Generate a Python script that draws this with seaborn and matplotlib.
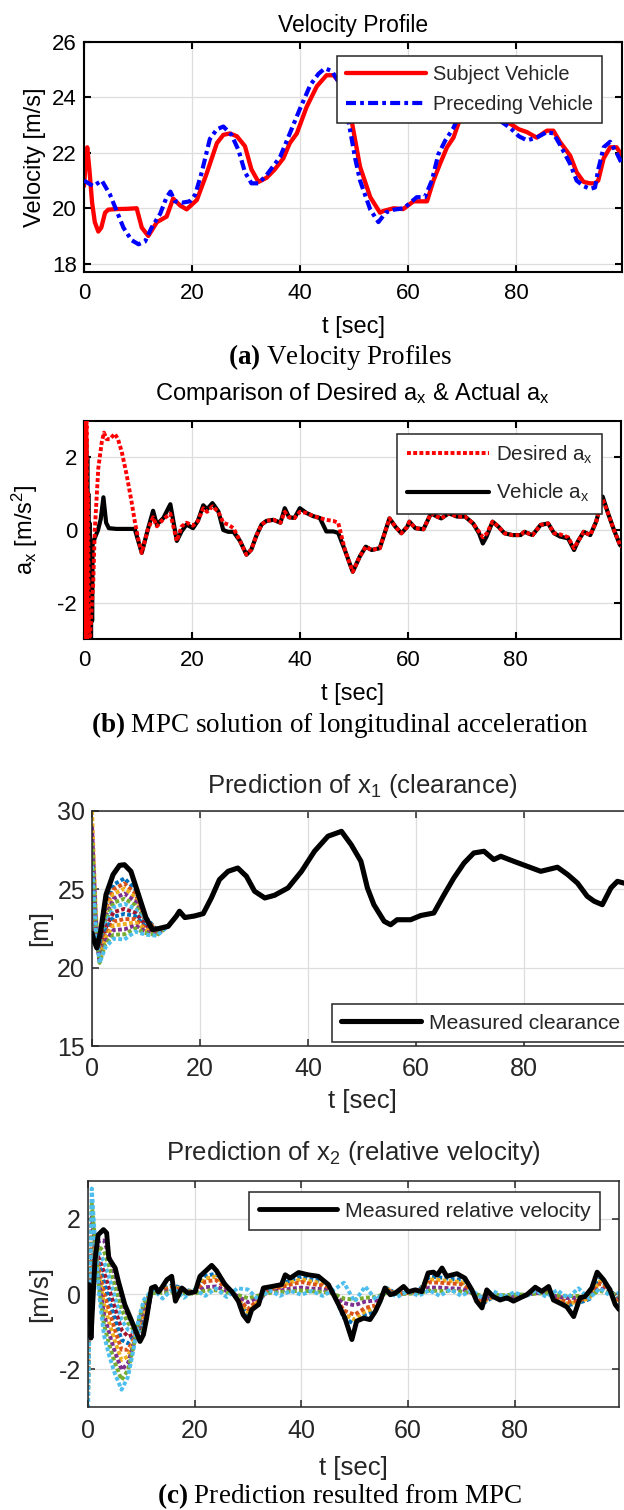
import matplotlib
matplotlib.use("Agg")
import matplotlib.pyplot as plt
import seaborn as sns

# ---------------- (a) velocity profiles ----------------
subj_t = [0, 0.3, 0.6, 1.0, 1.5, 2.0, 2.65, 3.2, 3.9, 4.5, 6, 8, 9.75, 10.7, 11.9,
          13.5, 15.3, 16.5, 17.8, 19.0, 20.9, 22.7, 24.6, 25.8, 27.0, 28.3, 29.8, 31.0, 32.3, 33.8,
          35.3, 36.9, 38.1, 39.4, 41.2, 43.1, 44.9, 46.2, 47.5, 48.5, 49.6, 51.1, 53.0, 54.8, 55.4,
          57.3, 59.1, 61.0, 63.5, 64.7, 65.9, 67.2, 68.4, 69.3, 70.5, 72.5, 74.5, 76.7, 78.9, 80.5,
          82.0, 83.8, 85.7, 86.9, 88.1, 90.0, 91.2, 92.5, 93.7, 94.6, 95.2, 96.2, 97.4, 98.6, 99.6]
subj_v = [20.8, 21.6, 22.2, 21.4, 20.2, 19.5, 19.16, 19.3, 19.84, 19.95, 19.97, 19.98, 20.0, 19.3, 19.0,
          19.5, 19.7, 20.35, 20.1, 19.96, 20.3, 21.25, 22.35, 22.65, 22.7, 22.6, 22.24, 21.4, 20.95, 21.1,
          21.4, 21.8, 22.35, 22.7, 23.65, 24.4, 24.8, 24.8, 24.5, 24.0, 23.1, 21.5, 20.4, 19.84, 19.9,
          20.0, 19.97, 20.25, 20.25, 21.0, 21.6, 22.2, 22.55, 23.05, 23.5, 23.8, 23.6, 23.2, 23.05, 22.85,
          22.75, 22.55, 22.8, 22.8, 22.4, 21.9, 21.3, 20.95, 20.9, 20.9, 21.0, 21.8, 22.2, 22.2, 21.9]
prec_t = [0, 1.7, 3.3, 4.8, 6.05, 7.3, 8.8, 10.1, 11.3, 12.5, 14.1, 15.3, 16.0, 16.85, 18.1,
          19.6, 20.6, 21.8, 23.3, 24.6, 25.8, 27.3, 28.6, 29.8, 31.0, 32.3, 33.8, 36.3, 38.1, 40.0,
          41.9, 43.4, 44.6, 45.9, 47.0, 48.0, 49.0, 50.2, 51.1, 53.0, 54.5, 55.9, 57.4, 59.2, 61.6,
          63.1, 64.4, 65.6, 66.9, 68.4, 69.3, 70.5, 72.5, 74.5, 76.7, 78.9, 80.5, 82.0, 83.8, 85.7,
          86.9, 88.1, 90.0, 91.2, 92.5, 93.7, 94.6, 95.2, 96.2, 97.4, 98.6, 99.6]
prec_v = [21.0, 20.8, 21.0, 20.5, 19.9, 19.3, 18.85, 18.7, 18.8, 19.3, 19.8, 20.4, 20.6, 20.25, 20.2,
          20.25, 20.5, 21.3, 22.5, 22.85, 22.95, 22.65, 22.1, 21.3, 20.9, 20.9, 21.2, 21.85, 22.7, 23.6,
          24.45, 24.85, 25.05, 24.95, 24.6, 24.0, 23.1, 21.8, 21.0, 19.95, 19.5, 19.85, 19.95, 20.0, 20.4,
          20.4, 21.0, 21.95, 22.45, 22.9, 23.3, 23.6, 23.8, 23.6, 23.2, 22.9, 22.6, 22.45, 22.55, 22.75,
          22.7, 22.3, 21.6, 21.0, 20.8, 20.7, 20.75, 21.4, 22.2, 22.4, 22.0, 21.6]

# ---------------- (b) longitudinal acceleration ----------------
veh_t = [0.0, 0.1, 0.2, 0.3, 0.4, 0.5, 0.6, 0.7, 0.8, 0.9, 1.0, 1.1, 1.2, 1.3, 1.4, 1.5, 1.6,
         1.8, 2.0, 2.6, 3.1, 3.6, 4.1, 4.6, 6.0, 8.0, 9.4, 10.7,
         11.8, 12.8, 13.5, 14.7, 16.0, 17.2, 18.1, 19.0, 20.2, 21.1, 22.1, 22.8, 23.8, 24.9, 25.8,
         26.7, 27.7, 28.9, 30.1, 31.0, 31.9, 32.9, 33.8, 35.1, 36.4, 37.2, 38.0, 39.0, 40.0, 41.2,
         42.5, 43.7, 44.9, 46.2, 47.1, 48.4, 49.3, 49.8, 51.1, 52.2, 53.3, 54.8, 55.9, 56.6, 57.7,
         58.8, 59.9, 60.3, 61.4, 62.9, 64.3, 65.4, 66.2, 67.6, 69.1, 70.6, 72.1, 73.2, 73.9, 74.6,
         75.7, 76.8, 77.9, 79.4, 80.9, 81.6, 83.1, 84.6, 86.0, 87.1, 88.2, 89.7, 90.8, 91.5, 92.6,
         93.8, 94.9, 96.1, 97.1, 98.2, 99.3, 100.0]
veh_a = [2.5, -3.0, 2.8, -3.0, 2.5, -3.0, 2.0, -3.0, 1.0, -3.0, 0.2, -3.0, -0.3, -3.0, -0.5, -2.5, -0.4,
         -0.3, -0.22, 0.0, 0.3, 0.9, 0.2, 0.05, 0.03, 0.03, 0.03, -0.63,
         0.0, 0.53, 0.15, 0.33, 0.71, -0.3, -0.03, 0.15, 0.05, 0.25, 0.68, 0.57, 0.74, 0.51, 0.0,
         -0.05, -0.05, -0.3, -0.68, -0.54, -0.17, 0.15, 0.25, 0.28, 0.2, 0.6, 0.35, 0.33, 0.6, 0.47,
         0.38, 0.33, -0.04, -0.04, -0.08, -0.58, -0.95, -1.15, -0.73, -0.46, -0.55, -0.5, 0.0, 0.32, 0.09,
         -0.09, 0.09, 0.23, 0.05, 0.02, 0.46, 0.37, 0.32, 0.46, 0.37, 0.37, 0.18, -0.09, -0.37, -0.18,
         0.23, 0.09, -0.09, -0.14, -0.14, -0.05, -0.14, 0.14, 0.18, -0.09, -0.18, -0.23, -0.55, -0.32, -0.05,
         -0.14, 0.23, 0.92, 0.46, 0.0, -0.41, -0.5]
des_t_start = [0.0, 0.12, 0.24, 0.36, 0.48, 0.6, 0.75, 0.9, 1.1, 1.4, 1.7, 2.0, 2.65, 3.3, 3.7,
               4.2, 4.8, 5.7, 6.3, 7.0, 7.9, 8.8, 9.4, 10.0, 10.7]
des_a_start = [3.0, -3.0, 3.0, -3.0, 3.0, -2.8, 1.0, -3.0, -3.0, -2.2, -1.5, 0.0, 1.7, 2.43, 2.68,
               2.5, 2.5, 2.65, 2.5, 2.15, 1.52, 0.79, 0.25, -0.22, -0.63]
des_a_rest = [0.0, 0.35, 0.1, 0.3, 0.45, -0.3, 0.1, 0.2, 0.12, 0.25, 0.6, 0.5, 0.65, 0.5, 0.2,
              0.15, 0.05, -0.3, -0.68, -0.54, -0.17, 0.15, 0.25, 0.28, 0.2, 0.5, 0.35, 0.33, 0.5, 0.47,
              0.38, 0.33, 0.28, 0.25, 0.2, -0.58, -0.95, -1.15, -0.73, -0.46, -0.55, -0.5, 0.0, 0.32, 0.09,
              -0.09, 0.09, 0.23, 0.05, 0.02, 0.46, 0.37, 0.32, 0.46, 0.37, 0.37, 0.18, -0.05, -0.2, -0.1,
              0.23, 0.09, -0.09, -0.14, -0.14, -0.05, -0.14, 0.14, 0.18, -0.09, -0.12, -0.2, -0.5, -0.32, -0.05,
              -0.14, 0.23, 0.85, 0.46, 0.0, -0.41, -0.5]

# ---------------- (c) x1: clearance ----------------
clr_t = [0, 0.4, 0.9, 1.6, 2.6, 3.9, 5.1, 6.0, 7.2, 8.8, 10.0, 11.2, 12.4, 14.1, 15.6,
         16.2, 17.2, 19.0, 20.6, 22.1, 23.6, 25.2, 27.0, 28.6, 30.1, 32.0, 33.8, 36.3, 38.8, 41.2,
         43.7, 46.2, 48.0, 49.8, 51.0, 52.2, 54.1, 55.3, 56.5, 59.0, 60.9, 63.3, 65.2, 67.0, 68.9,
         70.7, 72.6, 74.4, 75.7, 78.1, 80.6, 83.1, 86.2, 88.1, 89.9, 91.7, 93.0, 94.5, 96.1, 97.3,
         98.5, 100.0]
clr_v = [22.2, 21.7, 21.26, 22.3, 24.66, 25.94, 26.53, 26.57, 26.15, 24.45, 23.17, 22.43, 22.5, 22.64, 23.28,
         23.6, 23.2, 23.3, 23.45, 24.45, 25.62, 26.15, 26.36, 25.83, 24.88, 24.45, 24.62, 25.09, 26.15, 27.43,
         28.39, 28.7, 27.85, 26.79, 25.09, 24.02, 22.96, 22.74, 23.06, 23.06, 23.33, 23.49, 24.66, 25.72, 26.68,
         27.32, 27.43, 26.9, 27.11, 26.79, 26.47, 26.15, 26.41, 25.94, 25.4, 24.56, 24.24, 24.02, 25.09, 25.51,
         25.4, 25.35]
x1_pred_t = [0, 0.7, 1.4, 2.5, 4, 6, 8, 10, 12, 14]
x1_pred = [
    [22.5, 21.4, 21.1, 24.0, 25.3, 25.7, 25.0, 23.2, 22.4, 22.63],
    [22.8, 21.5, 21.0, 23.75, 25.0, 25.38, 24.75, 23.1, 22.38, 22.63],
    [23.1, 21.6, 20.9, 23.5, 24.7, 25.05, 24.5, 23.0, 22.35, 22.63],
    [23.4, 21.7, 20.8, 23.25, 24.4, 24.73, 24.25, 22.95, 22.32, 22.63],
    [23.7, 21.8, 20.7, 23.0, 24.15, 24.4, 24.0, 22.9, 22.3, 22.63],
    [24.0, 21.9, 20.6, 22.75, 23.85, 24.08, 23.75, 22.8, 22.27, 22.63],
    [24.5, 22.0, 20.6, 22.5, 23.55, 23.75, 23.5, 22.7, 22.24, 22.63],
    [25.0, 22.1, 20.5, 22.3, 23.25, 23.43, 23.3, 22.6, 22.2, 22.63],
    [25.8, 22.3, 20.5, 22.1, 22.95, 23.1, 23.1, 22.5, 22.17, 22.63],
    [30.0, 23.5, 20.4, 21.9, 22.7, 22.78, 22.9, 22.4, 22.14, 22.63],
    [29.0, 23.2, 20.4, 21.7, 22.4, 22.45, 22.7, 22.3, 22.1, 22.63],
    [28.0, 22.9, 20.3, 21.5, 22.1, 22.13, 22.5, 22.2, 22.07, 22.63],
    [26.5, 22.5, 20.3, 21.3, 21.85, 21.8, 22.3, 22.1, 22.04, 22.63],
]

# ---------------- (c) x2: relative velocity ----------------
rv_t = [0, 0.2, 0.56, 1.3, 1.9, 2.9, 3.5, 3.9, 5.1, 5.7, 6.9, 8.2, 9.75, 10.4, 11.0,
        11.9, 12.6, 13.2, 13.8, 14.8, 15.7, 16.4, 17.6, 18.8, 20.1, 21.0, 22.3, 23.2, 24.1, 25.7,
        27.0, 28.2, 29.1, 30.0, 30.7, 32.0, 32.9, 34.5, 36.3, 37.0, 37.9, 39.5, 41.3, 43.2, 45.1,
        47.0, 48.2, 49.5, 50.4, 51.7, 52.9, 53.9, 54.8, 55.7, 56.7, 57.6, 59.2, 60.1, 61.4, 62.6,
        63.8, 64.8, 65.5, 66.4, 67.3, 69.2, 70.7, 72.0, 72.9, 73.9, 74.8, 76.0, 77.3, 78.6, 79.8,
        81.1, 82.3, 83.9, 85.1, 86.4, 87.3, 88.6, 89.8, 91.1, 92.3, 93.2, 94.5, 95.5, 96.7, 97.9,
        98.9, 99.6]
rv_v = [0.2, 0.25, -1.17, 0.87, 1.57, 1.71, 1.62, 0.95, 0.69, 0.34, -0.28, -0.72, -1.26, -1.08, -0.64,
        0.16, 0.2, 0.05, 0.16, 0.38, 0.47, -0.19, 0.16, 0.02, 0.06, 0.47, 0.64, 0.76, 0.62, 0.25,
        0.06, -0.19, -0.55, -0.72, -0.42, -0.28, 0.16, 0.2, 0.25, 0.51, 0.42, 0.57, 0.51, 0.47, 0.25,
        -0.28, -0.64, -1.21, -0.72, -0.64, -0.68, -0.46, -0.19, 0.16, -0.02, 0.02, 0.2, 0.06, 0.11, 0.06,
        0.56, 0.58, 0.5, 0.69, 0.47, 0.54, 0.42, 0.11, -0.19, -0.37, 0.11, -0.07, -0.16, -0.1, -0.19,
        -0.1, -0.02, 0.18, 0.07, 0.2, -0.16, -0.25, -0.34, -0.6, -0.1, -0.07, 0.16, 0.58, 0.38, 0.11,
        -0.28, -0.41]
x2_pred_t_start = [0, 0.35, 0.7, 1.2, 2, 3, 4, 5, 6.3, 7.5, 8.5, 9.5, 10.5, 12]
x2_pred_start = [
    [-0.14, -0.47, -0.62, 0.71, 1.41, 1.42, 1.0, 0.51, -0.16, -0.59, -0.87, -1.1, -0.96, 0.1],
    [-0.48, -0.44, -0.24, 0.82, 1.26, 1.14, 0.71, 0.22, -0.42, -0.77, -0.94, -1.05, -0.87, 0.1],
    [-0.82, -0.41, 0.14, 0.93, 1.12, 0.86, 0.42, -0.07, -0.69, -0.95, -1.01, -1.0, -0.78, 0.1],
    [-1.16, -0.38, 0.52, 1.04, 0.97, 0.58, 0.12, -0.36, -0.95, -1.13, -1.08, -0.95, -0.69, 0.1],
    [-1.5, -0.35, 0.9, 1.15, 0.83, 0.3, -0.18, -0.65, -1.22, -1.31, -1.15, -0.9, -0.6, 0.1],
    [-1.84, -0.32, 1.28, 1.26, 0.68, 0.02, -0.47, -0.94, -1.48, -1.48, -1.22, -0.85, -0.51, 0.1],
    [-2.18, -0.29, 1.66, 1.37, 0.54, -0.26, -0.77, -1.23, -1.75, -1.66, -1.29, -0.8, -0.42, 0.1],
    [-2.52, -0.26, 2.04, 1.48, 0.39, -0.54, -1.06, -1.52, -2.01, -1.84, -1.36, -0.75, -0.33, 0.1],
    [-2.86, -0.23, 2.42, 1.59, 0.25, -0.82, -1.36, -1.81, -2.28, -2.02, -1.43, -0.7, -0.24, 0.1],
    [-3.2, -0.2, 2.8, 1.7, 0.1, -1.1, -1.65, -2.1, -2.54, -2.2, -1.5, -0.65, -0.15, 0.1],
]
x2_pred_t_rest = [12, 14, 16, 18, 20, 22, 24, 26, 28, 30, 32, 34, 36, 38, 40, 42, 44, 46, 48, 50,
                  52, 54, 56, 58, 60, 62, 64, 66, 68, 70, 72, 74, 76, 78, 80, 82, 84, 86, 88, 90,
                  92, 94, 96, 98, 100]
x2_pred_rest = [
    [0.08, 0.14, 0.24, 0.12, 0.06, 0.48, 0.54, 0.22, -0.12, -0.58, -0.2, 0.16, 0.24, 0.37, 0.46,
     0.38, 0.34, 0.04, -0.64, -0.8, -0.54, -0.44, 0.16, 0.0, 0.04, 0.08, 0.46, 0.44, 0.4, 0.38,
     0.08, -0.26, -0.08, -0.14, -0.12, -0.05, 0.04, 0.08, -0.18, -0.3, -0.24, -0.14, 0.4, 0.12, -0.32],
    [0.07, 0.12, 0.2, 0.1, 0.05, 0.41, 0.46, 0.19, -0.1, -0.49, -0.17, 0.14, 0.2, 0.31, 0.39,
     0.33, 0.29, 0.03, -0.54, -0.68, -0.46, -0.37, 0.14, 0.0, 0.03, 0.07, 0.39, 0.37, 0.34, 0.32,
     0.07, -0.22, -0.07, -0.12, -0.1, -0.04, 0.03, 0.07, -0.15, -0.26, -0.2, -0.12, 0.34, 0.1, -0.27],
    [0.06, 0.1, 0.17, 0.08, 0.04, 0.33, 0.37, 0.15, -0.08, -0.4, -0.14, 0.11, 0.17, 0.25, 0.32,
     0.26, 0.23, 0.03, -0.44, -0.55, -0.37, -0.3, 0.11, 0.0, 0.03, 0.06, 0.31, 0.3, 0.28, 0.26,
     0.06, -0.18, -0.06, -0.09, -0.08, -0.03, 0.03, 0.06, -0.12, -0.21, -0.17, -0.09, 0.28, 0.08, -0.22],
    [0.03, 0.05, 0.09, 0.05, 0.02, 0.18, 0.2, 0.08, -0.05, -0.22, -0.08, 0.06, 0.09, 0.14, 0.17,
     0.14, 0.13, 0.02, -0.24, -0.3, -0.2, -0.17, 0.06, 0.0, 0.02, 0.03, 0.17, 0.17, 0.15, 0.14,
     0.03, -0.1, -0.03, -0.05, -0.05, -0.02, 0.02, 0.03, -0.07, -0.11, -0.09, -0.05, 0.15, 0.05, -0.12],
    [0.02, 0.03, 0.05, 0.02, 0.01, 0.09, 0.1, 0.04, -0.02, -0.11, -0.04, 0.03, 0.05, 0.07, 0.09,
     0.07, 0.06, 0.01, -0.12, -0.15, -0.1, -0.08, 0.03, 0.0, 0.01, 0.02, 0.09, 0.08, 0.08, 0.07,
     0.02, -0.05, -0.02, -0.03, -0.02, -0.01, 0.01, 0.02, -0.03, -0.06, -0.05, -0.03, 0.08, 0.02, -0.06],
    [0.15, -0.12, 0.15, -0.1, 0.12, -0.05, 0.15, -0.08, 0.15, 0.12, -0.15, 0.1, -0.05, 0.08, -0.02,
     0.08, -0.05, 0.1, 0.3, -0.2, 0.2, -0.15, 0.1, -0.08, 0.08, -0.05, 0.1, -0.05, 0.12, -0.05,
     0.1, -0.12, 0.08, -0.08, 0.05, -0.08, 0.1, -0.08, 0.1, -0.1, 0.15, -0.12, 0.15, -0.05, 0.05],
]

x_ticks = [0, 20, 40, 60, 80]
matlab_colors = ['#0072BD', '#D95319', '#EDB120', '#7E2F8E', '#77AC30', '#4DBEEE', '#A2142F']
rest_colors = ['#0072BD', '#EDB120', '#D95319', '#7E2F8E', '#77AC30', '#4DBEEE']

# ---------------- style ----------------
sns.set_theme(style="ticks")
plt.rcParams['font.family'] = ['Liberation Sans', 'DejaVu Sans']
plt.rcParams['mathtext.fontset'] = 'custom'
plt.rcParams['mathtext.rm'] = 'Liberation Sans'
plt.rcParams['mathtext.it'] = 'Liberation Sans:italic'
plt.rcParams['mathtext.bf'] = 'Liberation Serif:bold'
plt.rcParams['axes.unicode_minus'] = False

W, H = 624, 1510
fig = plt.figure(figsize=(W / 100, H / 100), dpi=100)


def make_ax(left, top, right, bottom):
    return fig.add_axes([left / W, 1 - bottom / H, (right - left) / W, (bottom - top) / H])


def style(ax, xlim, ylim, yticks, spine_col, spine_lw, fs, xpad, ypad):
    ax.set_xlim(*xlim)
    ax.set_ylim(*ylim)
    ax.set_xticks(x_ticks)
    ax.set_yticks(yticks)
    ax.grid(True, color='#dddddd', linewidth=0.9)
    ax.set_axisbelow(True)
    ax.set_facecolor('white')
    for s in ax.spines.values():
        s.set_visible(True)
        s.set_color(spine_col)
        s.set_linewidth(spine_lw)
    ax.tick_params(direction='in', length=5, width=spine_lw, top=True, right=True,
                   color=spine_col, labelcolor=spine_col, labelsize=fs)
    ax.tick_params(axis='x', pad=xpad)
    ax.tick_params(axis='y', pad=ypad)


def line(ax, t, v, color, lw, dashes=None, label=None, z=2):
    sns.lineplot(x=t, y=v, ax=ax, color=color, linewidth=lw, estimator=None,
                 sort=False, label=label, legend=False, zorder=z)
    ln = ax.lines[-1]
    if dashes is not None:
        ln.set_dashes(dashes)
        ln.set_dash_capstyle('butt')
    return ln


def legend(ax, handles, labels, loc, anchor, fs, hl, ls=0.55):
    lg = ax.legend(handles, labels, loc=loc, bbox_to_anchor=anchor, borderaxespad=0,
                   fontsize=fs, handlelength=hl, handletextpad=0.35, borderpad=0.45,
                   labelspacing=ls, fancybox=False, framealpha=1, edgecolor='#262626')
    lg.get_frame().set_linewidth(1.1)
    return lg


# ---------- panel (a) ----------
ax1 = make_ax(84, 42, 622, 272)
style(ax1, (0, 99.6), (17.7, 26), [18, 20, 22, 24, 26], 'black', 1.5, 16, 8, 5)
h1 = line(ax1, subj_t, subj_v, '#ff0000', 3.1, label='Subject Vehicle')
h2 = line(ax1, prec_t, prec_v, '#0000ff', 3.0, dashes=[2.4, 1.0, 0.9, 1.0], label='Preceding Vehicle', z=3)
ax1.set_title('Velocity Profile', fontsize=16.5, pad=7, color='black')
ax1.set_xlabel('t [sec]', fontsize=17, color='black')
ax1.set_ylabel('Velocity [m/s]', fontsize=17, color='black')
ax1.xaxis.set_label_coords(0.5, -0.19)
ax1.yaxis.set_label_coords(-0.0706, 0.5)
legend(ax1, [h1, h2], ['Subject Vehicle', 'Preceding Vehicle'], 'upper right', (0.963, 0.939), 14.4, 4.0)

# ---------- panel (b) ----------
ax2 = make_ax(84, 421, 621, 639)
style(ax2, (0, 99.5), (-3, 3), [-2, 0, 2], 'black', 1.5, 16, 8, 5)
des_t = des_t_start + veh_t[28:]
des_a = des_a_start + des_a_rest
h3 = line(ax2, veh_t, veh_a, 'black', 3.0, label='Vehicle a$_{\\rm x}$', z=2)
h4 = line(ax2, des_t, des_a, '#ff0000', 2.8, dashes=[1.0, 0.6], label='Desired a$_{\\rm x}$', z=3)
ax2.set_title('Comparison of Desired a$_{\\rm x}$ & Actual a$_{\\rm x}$', fontsize=17, pad=15, color='black')
ax2.set_xlabel('t [sec]', fontsize=17, color='black')
ax2.set_ylabel('a$_{\\rm x}$ [m/s$^{\\rm 2}$]', fontsize=17, color='black')
ax2.xaxis.set_label_coords(0.5, -0.2)
ax2.yaxis.set_label_coords(-0.082, 0.5)
legend(ax2, [h4, h3], ['Desired a$_{\\rm x}$', 'Vehicle a$_{\\rm x}$'], 'upper right', (0.965, 0.94), 14.8, 4.0, ls=0.8)

# ---------- panel (c) top ----------
dark = '#262626'
ax3 = make_ax(92, 811, 632, 1046)
style(ax3, (0, 100), (15, 30), [15, 20, 25, 30], dark, 1.1, 18, 8, 5)
for i, series in enumerate(x1_pred):
    line(ax3, x1_pred_t, series, matlab_colors[i % 7], 2.8, dashes=[1.0, 0.6], z=2)
h5 = line(ax3, clr_t, clr_v, 'black', 3.7, label='Measured clearance', z=4)
ax3.set_title('Prediction of x$_{\\rm 1}$ (clearance)', fontsize=18.5, pad=13, color=dark)
ax3.set_xlabel('t [sec]', fontsize=18.5, color=dark)
ax3.set_ylabel('[m]', fontsize=18.5, color=dark)
ax3.xaxis.set_label_coords(0.5, -0.185)
ax3.yaxis.set_label_coords(-0.074, 0.5)
legend(ax3, [h5], ['Measured clearance'], 'lower right', (0.995, 0.017), 15.2, 3.8)

# ---------- panel (c) bottom ----------
ax4 = make_ax(88, 1181, 619, 1407)
style(ax4, (0, 99.6), (-3, 3), [-2, 0, 2], dark, 1.1, 18, 9, 5)
for i, series in enumerate(x2_pred_start):
    line(ax4, x2_pred_t_start, series, matlab_colors[(i + 3) % 7], 2.8, dashes=[1.0, 0.6], z=2)
for i, series in enumerate(x2_pred_rest):
    line(ax4, x2_pred_t_rest, series, rest_colors[i], 2.8, dashes=[1.0, 0.6], z=2)
h6 = line(ax4, rv_t, rv_v, 'black', 3.5, label='Measured relative velocity', z=4)
ax4.set_title('Prediction of x$_{\\rm 2}$ (relative velocity)', fontsize=18.5, pad=15, color=dark)
ax4.set_xlabel('t [sec]', fontsize=18.5, color=dark)
ax4.set_ylabel('[m/s]', fontsize=18.5, color=dark)
ax4.xaxis.set_label_coords(0.5, -0.215)
ax4.yaxis.set_label_coords(-0.068, 0.5)
legend(ax4, [h6], ['Measured relative velocity'], 'upper right', (0.964, 0.951), 15.3, 3.7)

# ---------- captions ----------
cap = dict(family=['Liberation Serif', 'DejaVu Serif'], fontsize=19.5, ha='center', va='baseline', color='black')
fig.text(340 / W, 1 - 364 / H, r'$\mathbf{(a)}$ Velocity Profiles', **cap)
fig.text(340 / W, 1 - 732 / H, r'$\mathbf{(b)}$ MPC solution of longitudinal acceleration', **cap)
fig.text(340 / W, 1 - 1503 / H, r'$\mathbf{(c)}$ Prediction resulted from MPC', **cap)

fig.savefig('out.png', dpi=100, facecolor='white')
